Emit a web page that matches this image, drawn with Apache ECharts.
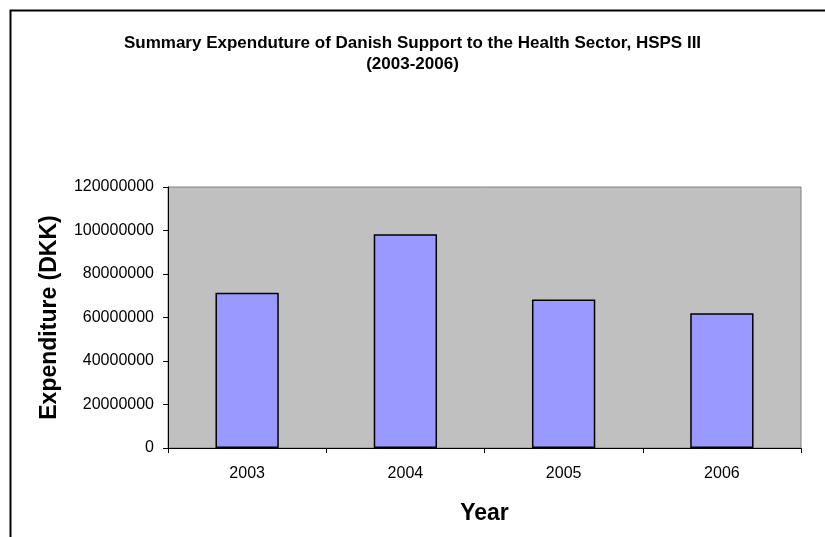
<!DOCTYPE html>
<html>
<head>
<meta charset="utf-8">
<script src="https://cdn.jsdelivr.net/npm/echarts@6/dist/echarts.min.js"></script>
<style>html,body{margin:0;padding:0;background:#fff}#c{width:825px;height:537px}</style>
</head>
<body>
<div id="c"></div>
<script>
const titleText = 'Summary Expenduture of Danish Support to the Health Sector, HSPS III\n(2003-2006)';
const categories = ['2003', '2004', '2005', '2006'];
const expenditure = [71400000, 98300000, 68300000, 61900000];
const yMin = 0, yMax = 120000000, yStep = 20000000;

const chart = echarts.init(document.getElementById('c'), null, {renderer: 'canvas'});
const font = 'Liberation Sans, Arial, sans-serif';
chart.setOption({
  animation: false,
  backgroundColor: '#ffffff',
  graphic: [{
    type: 'rect', silent: true,
    shape: {x: 10.5, y: 10.5, width: 830, height: 540},
    style: {fill: 'none', stroke: '#000', lineWidth: 2}
  }],
  title: {
    text: titleText, left: 'center', top: 33, padding: 0,
    textStyle: {fontFamily: font, fontSize: 17, fontWeight: 'bold', color: '#000', lineHeight: 21}
  },
  grid: {left: 168, top: 187, right: 24, bottom: 89, show: true, backgroundColor: '#c0c0c0', borderColor: '#808080', borderWidth: 1},
  xAxis: {
    type: 'category', data: categories,
    name: 'Year', nameLocation: 'middle', nameGap: 54,
    nameTextStyle: {fontFamily: font, fontSize: 23, fontWeight: 'bold', color: '#000'},
    axisLine: {lineStyle: {color: '#000', width: 1}},
    axisTick: {show: true, alignWithLabel: false, length: 5, lineStyle: {color: '#000'}},
    axisLabel: {fontFamily: font, fontSize: 16, color: '#000', margin: 18}
  },
  yAxis: {
    type: 'value', min: yMin, max: yMax, interval: yStep,
    name: 'Expenditure (DKK)', nameLocation: 'middle', nameGap: 107,
    nameTextStyle: {fontFamily: font, fontSize: 23, fontWeight: 'bold', color: '#000'},
    axisLine: {show: true, lineStyle: {color: '#000', width: 1}},
    axisTick: {show: true, length: 5, lineStyle: {color: '#000'}},
    splitLine: {show: false},
    axisLabel: {fontFamily: font, fontSize: 16, color: '#000', margin: 14, formatter: v => String(v)}
  },
  series: [{
    type: 'bar', data: expenditure, barWidth: '40%',
    itemStyle: {color: '#9999ff', borderColor: '#000', borderWidth: 1.5}
  }]
});
</script>
</body>
</html>
